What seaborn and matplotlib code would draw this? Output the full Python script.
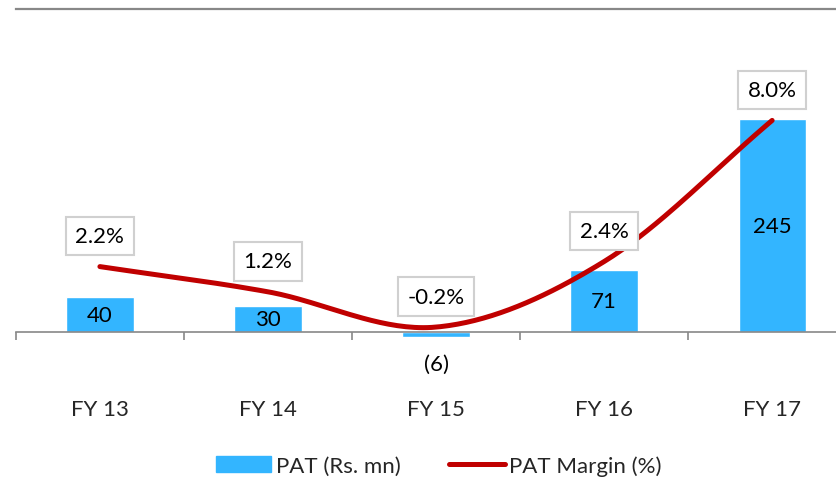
import numpy as np
import seaborn as sns
import matplotlib.pyplot as plt
from matplotlib.patches import Patch
from matplotlib.lines import Line2D

years = ["FY 13", "FY 14", "FY 15", "FY 16", "FY 17"]
pat = [40, 30, -6, 71, 245]
pat_labels = ["40", "30", "(6)", "71", "245"]
margin = [2.2, 1.2, -0.2, 2.4, 8.0]
margin_labels = ["2.2%", "1.2%", "-0.2%", "2.4%", "8.0%"]

bar_color = "#33B5FF"
line_color = "#C00000"
grey = "#888888"
fs = 16

sns.set_style("white")
plt.rcParams["font.family"] = ["Lato", "DejaVu Sans"]

fig = plt.figure(figsize=(8.36, 4.81), dpi=100)
ax = fig.add_axes([0.019, 0.2723, 0.981, 0.7069])

sns.barplot(x=years, y=pat, color=bar_color, width=0.4, saturation=1, ax=ax)
ax.set_xlim(-0.5, 4.38)
ax.set_ylim(-19.6, 371.6)

# bar labels
for i, (v, lab) in enumerate(zip(pat, pat_labels)):
    if v >= 0:
        ax.text(i, v / 2, lab, ha="center", va="center", fontsize=fs, color="black")
    else:
        ax.annotate(lab, (i, v), xytext=(0, -19), textcoords="offset points",
                    ha="center", va="center", fontsize=fs, color="black")

# axes styling
for s in ["left", "right"]:
    ax.spines[s].set_visible(False)
ax.spines["top"].set_color(grey)
ax.spines["top"].set_linewidth(1.6)
ax.spines["bottom"].set_position(("data", 0))
ax.spines["bottom"].set_color(grey)
ax.spines["bottom"].set_linewidth(1.2)
ax.set_yticks([])
ax.set_xticks(np.arange(-0.5, 4.0, 1.0))
ax.set_xticklabels([])
ax.tick_params(axis="x", which="major", bottom=True, length=6, width=1.2,
               color=grey, direction="out")
ax.set_xticks(np.arange(5), minor=True)
ax.set_xticklabels(years, minor=True)
ax.tick_params(axis="x", which="minor", bottom=True, length=0, pad=48, labelsize=fs)

# margin line on secondary axis, smoothed (Catmull-Rom)
ax2 = ax.twinx()
ax2.set_ylim(-1.07, 12.42)
ax2.axis("off")
xs = np.arange(5, dtype=float)
ys = np.array(margin)
px = np.concatenate([[2 * xs[0] - xs[1]], xs, [2 * xs[-1] - xs[-2]]])
py = np.concatenate([[2 * ys[0] - ys[1]], ys, [2 * ys[-1] - ys[-2]]])
cx, cy = [], []
t = np.linspace(0, 1, 40)
for k in range(1, len(px) - 2):
    for arr, out in ((px, cx), (py, cy)):
        p0, p1, p2, p3 = arr[k - 1], arr[k], arr[k + 1], arr[k + 2]
        out.extend(0.5 * ((2 * p1) + (-p0 + p2) * t + (2 * p0 - 5 * p1 + 4 * p2 - p3) * t ** 2
                          + (-p0 + 3 * p1 - 3 * p2 + p3) * t ** 3))
ax2.plot(cx, cy, color=line_color, lw=3.6, solid_capstyle="round")

for i, (v, lab) in enumerate(zip(margin, margin_labels)):
    ax2.annotate(lab, (i, v), xytext=(0, 22), textcoords="offset points",
                 ha="center", va="center", fontsize=fs, color="black",
                 bbox=dict(boxstyle="square,pad=0.42", fc="white", ec="#D0D0D0", lw=1.5))

handles = [Patch(color=bar_color, label="PAT (Rs. mn)"),
           Line2D([], [], color=line_color, lw=3.6, label="PAT Margin (%)")]
fig.legend(handles=handles, loc="center", bbox_to_anchor=(0.525, 0.03), ncol=2,
           frameon=False, fontsize=fs, handlelength=2.5, handletextpad=0.2,
           columnspacing=2.2)

fig.savefig("out.png", dpi=100)
